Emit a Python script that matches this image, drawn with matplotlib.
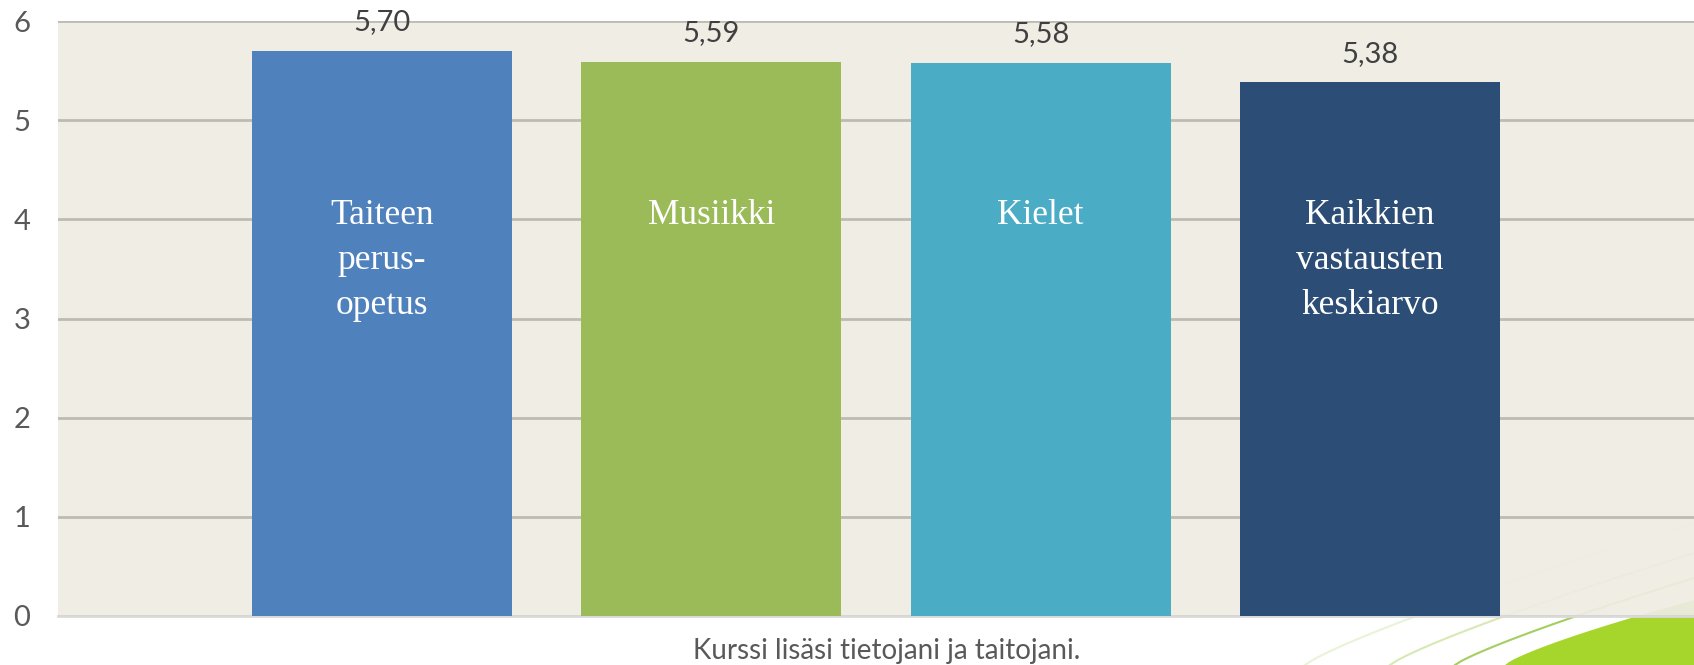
import numpy as np
import matplotlib
matplotlib.use("Agg")
import matplotlib.pyplot as plt
from matplotlib.lines import Line2D
from matplotlib.patches import Polygon

# Data
categories = ["Taiteen\nperus-\nopetus", "Musiikki", "Kielet", "Kaikkien\nvastausten\nkeskiarvo"]
values = [5.70, 5.59, 5.58, 5.38]
value_labels = ["5,70", "5,59", "5,58", "5,38"]
colors = ["#4F81BD", "#9BBB59", "#4BACC6", "#2C4D75"]
xlabel = "Kurssi lisäsi tietojani ja taitojani."

W, H = 1694, 665
fig = plt.figure(figsize=(W / 100, H / 100), dpi=100)
fig.patch.set_facecolor("white")

# green swoosh decoration in bottom-right corner (slide background)
def fx(px):
    return px / W

def fy(py):
    return 1 - py / H

t = np.linspace(0, 1, 40)
edge_x = 1505 + (1694 - 1505) * t
edge_y = 665 - (665 - 600) * (t ** 0.8)
poly_pts = [(fx(x), fy(y)) for x, y in zip(edge_x, edge_y)] + [(fx(1694), fy(665))]
fig.add_artist(Polygon(poly_pts, closed=True, facecolor="#a6d62c", edgecolor="none",
                       transform=fig.transFigure, zorder=0))
for (x0, y0, y1, a, c) in [(1455, 665, 578, 0.8, "#8fc23a"),
                           (1390, 665, 553, 0.45, "#a5cf5a"),
                           (1305, 665, 523, 0.3, "#b8d880")]:
    xs = x0 + (1694 - x0) * t
    ys = y0 - (y0 - y1) * (t ** 0.85)
    fig.add_artist(Line2D(fx(xs), fy(ys), color=c, alpha=a, lw=1.5,
                          transform=fig.transFigure, zorder=0))

ax = fig.add_axes([58 / W, 49 / H, 1 - 58 / W, 595 / H])
ax.set_facecolor((0.937, 0.925, 0.894, 0.93))
ax.set_zorder(1)

x = np.arange(len(categories))
bars = ax.bar(x, values, width=0.79, color=colors, zorder=3)

ax.set_xlim(-0.983, 3.983)
ax.set_ylim(0, 6)
ax.set_yticks(range(0, 7))
ax.yaxis.grid(True, color="#bdbbb3", linewidth=2, zorder=1)
ax.set_axisbelow(True)
for s in ["top", "right", "left"]:
    ax.spines[s].set_visible(False)
ax.spines["bottom"].set_color("#d9d9d9")
ax.spines["bottom"].set_linewidth(2)
ax.set_xticks([])
ax.tick_params(axis="y", length=0, pad=20, labelsize=21, labelcolor="#595959")
for lab in ax.get_yticklabels():
    lab.set_fontfamily("Lato")

for xi, v, lbl, cat in zip(x, values, value_labels, categories):
    ax.text(xi, v + 0.29, lbl, ha="center", va="center", fontsize=21,
            color="#404040", family="Lato", clip_on=False, zorder=5)
    ax.text(xi, 4.2, cat, ha="center", va="top", fontsize=25.5,
            color="white", family="Liberation Serif", linespacing=1.47,
            multialignment="center", zorder=5)

# x axis title
fig.text(887 / W, 1 - 651 / H, xlabel, ha="center", va="center", fontsize=20,
         color="#595959", family="Lato")

fig.savefig("out.png", dpi=100, facecolor=fig.get_facecolor())
